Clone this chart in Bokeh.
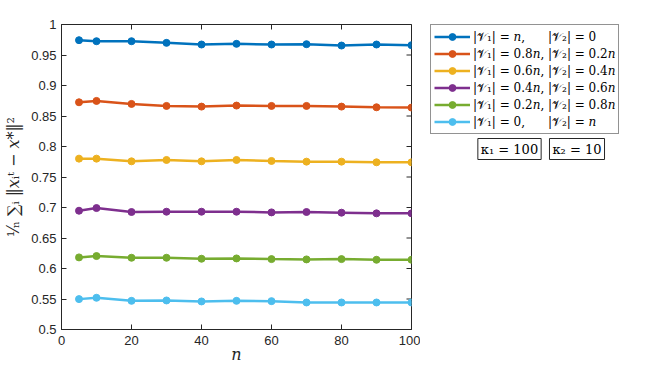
import math
from bokeh.plotting import figure
from bokeh.layouts import row
from bokeh.models import Legend, LegendItem, Label, FixedTicker, Range1d
from bokeh.embed import file_html
from bokeh.resources import INLINE

n_vals = [5, 10, 20, 30, 40, 50, 60, 70, 80, 90, 100]
s1 = [0.9743, 0.9726, 0.9726, 0.9699, 0.9672, 0.9683, 0.9672, 0.9677, 0.9655, 0.9672, 0.9661]
s2 = [0.8725, 0.8747, 0.8698, 0.8665, 0.8654, 0.8671, 0.8665, 0.8665, 0.8654, 0.8643, 0.8638]
s3 = [0.7801, 0.7801, 0.7757, 0.7779, 0.7757, 0.7779, 0.7763, 0.7752, 0.7752, 0.7741, 0.7741]
s4 = [0.6947, 0.6991, 0.6926, 0.6931, 0.6931, 0.6931, 0.6920, 0.6926, 0.6915, 0.6904, 0.6904]
s5 = [0.6182, 0.6204, 0.6176, 0.6176, 0.6160, 0.6165, 0.6154, 0.6149, 0.6154, 0.6143, 0.6143]
s6 = [0.5498, 0.5520, 0.5470, 0.5476, 0.5460, 0.5470, 0.5465, 0.5443, 0.5443, 0.5443, 0.5443]
series = [s1, s2, s3, s4, s5, s6]
labels = [
    "|𝒱₁| = 𝑛,\u2007\u2007\u2008 |𝒱₂| = 0",
    "|𝒱₁| = 0.8𝑛, |𝒱₂| = 0.2𝑛",
    "|𝒱₁| = 0.6𝑛, |𝒱₂| = 0.4𝑛",
    "|𝒱₁| = 0.4𝑛, |𝒱₂| = 0.6𝑛",
    "|𝒱₁| = 0.2𝑛, |𝒱₂| = 0.8𝑛",
    "|𝒱₁| = 0,\u2007\u2007\u2008 |𝒱₂| = 𝑛",
]
colors = ["#0072BD", "#D95319", "#EDB120", "#7E2F8E", "#77AC30", "#4DBEEE"]
y_ticks = [0.5, 0.55, 0.6, 0.65, 0.7, 0.75, 0.8, 0.85, 0.9, 0.95, 1.0]
y_tick_labels = ["0.5", "0.55", "0.6", "0.65", "0.7", "0.75", "0.8", "0.85", "0.9", "0.95", "1"]
x_ticks = [0, 20, 40, 60, 80, 100]
kappa_texts = ["κ₁ = 100", "κ₂ = 10"]

TXT = "#262626"
SERIF = "DejaVu Serif"

# ---- main plot ----
p = figure(width=420, height=366, output_backend="svg", toolbar_location=None,
           x_range=Range1d(0, 100), y_range=Range1d(0.5, 1.0),
           min_border_left=61, min_border_top=24, min_border_bottom=37, min_border_right=9)
p.xgrid.visible = False
p.ygrid.visible = False
p.outline_line_color = TXT
p.background_fill_color = "white"

for ax in (p.xaxis[0], p.yaxis[0]):
    ax.major_tick_in = 5
    ax.major_tick_out = 0
    ax.minor_tick_line_color = None
    ax.axis_line_color = TXT
    ax.major_tick_line_color = TXT
    ax.major_label_text_color = TXT
    ax.major_label_text_font = "Liberation Sans"
    ax.major_label_text_font_size = "13px"
    ax.axis_label_text_font = SERIF
    ax.axis_label_text_font_style = "normal"
    ax.axis_label_text_color = TXT
    ax.axis_label_text_font_size = "16px"

p.xaxis.ticker = FixedTicker(ticks=x_ticks)
p.yaxis.ticker = FixedTicker(ticks=y_ticks)
p.yaxis.major_label_overrides = {t: l for t, l in zip(y_ticks, y_tick_labels)}
p.xaxis.axis_label = "𝑛"
p.yaxis.axis_label = "¹⁄ₙ ∑ᵢ ‖𝑥ᵢᵗ − 𝑥*‖²"
p.xaxis.major_label_standoff = 6
p.xaxis.axis_label_standoff = -3
p.yaxis.major_label_standoff = 5
p.yaxis.axis_label_standoff = 5

# mirrored inward ticks on the top and right edges (box on)
p.scatter([100] * len(y_ticks), y_ticks, marker="dash", size=10, line_color=TXT, line_width=1)
p.scatter(x_ticks, [1.0] * len(x_ticks), marker="dash", size=10, angle=math.pi / 2,
          line_color=TXT, line_width=1)

for ys, c in zip(series, colors):
    p.line(n_vals, ys, line_color=c, line_width=2.5)
    p.scatter(n_vals, ys, size=7, fill_color=c, line_color=c, marker="circle")

# ---- side panel holding the legend and the parameter boxes ----
# (the series lie outside its ranges, so only the legend glyphs are visible)
q = figure(width=244, height=366, output_backend="svg", toolbar_location=None,
           x_range=Range1d(-2, -1), y_range=Range1d(-2, -1),
           min_border_left=0, min_border_right=0, min_border_top=0, min_border_bottom=0)
q.axis.visible = False
q.grid.visible = False
q.outline_line_color = None

items = []
for ys, lab, c in zip(series, labels, colors):
    r1 = q.line(n_vals, ys, line_color=c, line_width=2.5)
    r2 = q.scatter(n_vals, ys, size=7, fill_color=c, line_color=c, marker="circle")
    items.append(LegendItem(label=lab, renderers=[r1, r2]))

legend = Legend(items=items, location=(10, 195))
legend.border_line_color = TXT
legend.border_line_width = 1
legend.background_fill_color = "white"
legend.label_text_font = SERIF
legend.label_text_font_size = "12px"
legend.label_text_line_height = 1.0
legend.label_text_color = "black"
legend.padding = 3
legend.spacing = 0
legend.label_height = 17
legend.glyph_height = 17
legend.glyph_width = 36
legend.label_standoff = 3
legend.margin = 0
q.add_layout(legend, "center")

for txt, cx in zip(kappa_texts, [89, 156.5]):
    lb = Label(x=cx, y=180.5, x_units="screen", y_units="screen", text=txt,
               text_align="center", text_baseline="middle",
               text_font=SERIF, text_font_size="13px", text_color="black",
               border_line_color=TXT, border_line_width=1,
               background_fill_color="white", padding=3)
    q.add_layout(lb)

open("out.html", "w").write(file_html(row(p, q), INLINE))
